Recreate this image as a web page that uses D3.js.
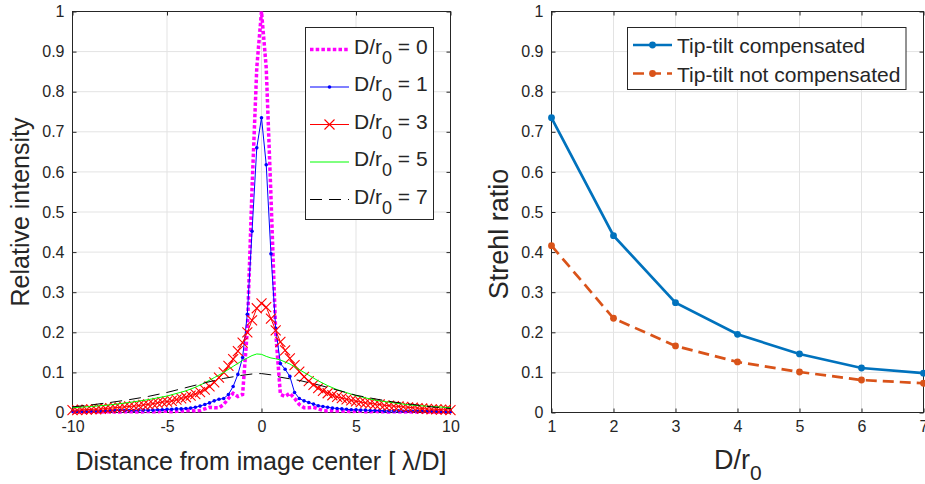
<!DOCTYPE html>
<html><head><meta charset="utf-8">
<script src="https://cdn.jsdelivr.net/npm/d3@7/dist/d3.min.js"></script>
<style>
body{margin:0;background:#fff;}
svg text{font-family:"Liberation Sans",Arial,Helvetica,sans-serif;fill:#262626;}
.tick text{font-size:16px;}
</style></head><body>
<svg id="c" width="925" height="484"></svg>
<script>
// ---------- DATA ----------
const xGrid = d3.range(81).map(i => -10 + i * 0.25);   // sample positions [λ/D]
const psf0 = [0.001,0.001,0.001,0.001,0.002,0.001,0.001,0.002,0.002,0.001,0.001,0.002,0.002,0.002,0.001,0.002,0.003,0.002,0.002,0.003,0.003,0.002,0.003,0.004,
  0.004,0.005,0.004,0.005,0.009,0.013,0.012,0.012,0.020,0.035,0.048,0.040,0.045,0.205,0.56,0.86,1.0,
  0.86,0.54,0.20,0.045,0.040,0.048,0.035,0.020,0.012,0.012,0.013,0.009,0.005,0.004,0.005,0.004,
  0.004,0.003,0.002,0.003,0.003,0.002,0.002,0.003,0.002,0.002,0.001,0.002,0.002,0.001,0.002,0.001,0.001,0.002,0.001,0.001,0.001,0.001,0.001,0.001];
const psf1 = [0.003,0.003,0.003,0.003,0.004,0.004,0.004,0.004,0.004,0.005,0.005,0.005,0.005,0.005,0.006,0.006,0.006,0.006,0.007,0.007,
  0.008,0.008,0.009,0.009,0.010,0.011,0.013,0.016,0.020,0.024,0.029,0.033,0.035,0.045,0.065,0.095,0.137,0.245,0.452,0.66,0.735,
  0.618,0.396,0.21,0.122,0.108,0.09,0.05,0.035,0.029,0.025,0.021,0.017,0.015,0.013,0.011,0.010,0.009,0.008,0.007,0.007,
  0.006,0.006,0.005,0.005,0.005,0.004,0.004,0.004,0.004,0.003,0.003,0.003,0.003,0.003,0.003,0.003,0.003,0.002,0.002,0.002];
const psf3 = [0.006,0.006,0.007,0.007,0.008,0.008,0.009,0.010,0.011,0.012,0.013,0.014,0.015,0.016,0.017,0.019,0.020,0.022,0.024,0.026,
  0.027,0.029,0.032,0.035,0.038,0.042,0.046,0.051,0.057,0.065,0.075,0.087,0.100,0.116,0.133,0.153,0.174,0.200,0.230,0.260,0.272,
  0.263,0.234,0.205,0.176,0.155,0.135,0.118,0.102,0.089,0.078,0.069,0.061,0.054,0.048,0.043,0.039,0.036,0.033,0.030,0.028,
  0.026,0.024,0.023,0.021,0.020,0.018,0.017,0.016,0.015,0.014,0.013,0.012,0.011,0.010,0.009,0.008,0.008,0.007,0.007,0.006];
const x5 = [-10,-9,-8,-7,-6,-5,-4,-3.5,-3,-2.5,-2,-1.5,-1,-0.5,-0.25,0,0.25,0.5,0.75,1,1.5,2,2.5,3,3.5,4,5,6,7,8,9,10];
const psf5 = [0.012,0.015,0.019,0.025,0.032,0.041,0.054,0.063,0.074,0.087,0.100,0.115,0.130,0.142,0.146,0.145,0.140,0.136,0.134,0.131,0.121,0.107,0.093,0.079,0.067,0.057,0.042,0.031,0.024,0.018,0.015,0.012];
const x7 = [-10,-9,-8,-7,-6,-5,-4,-3,-2,-1,-0.5,-0.25,0,0.5,1,2,3,4,5,6,7,8,9,10];
const psf7 = [0.014,0.019,0.025,0.032,0.040,0.050,0.062,0.074,0.085,0.093,0.096,0.097,0.097,0.094,0.088,0.080,0.069,0.056,0.043,0.034,0.026,0.020,0.014,0.010];
const legendLeft = ['0','1','3','5','7'];

const dr0 = [1,2,3,4,5,6,7];
const strehlComp = [0.735,0.441,0.274,0.195,0.146,0.111,0.098];
const strehlNoComp = [0.416,0.235,0.166,0.126,0.101,0.081,0.073];
const legendRight = ['Tip-tilt compensated','Tip-tilt not compensated'];

const yTicks = [0,0.1,0.2,0.3,0.4,0.5,0.6,0.7,0.8,0.9,1];
const xTicksL = [-10,-5,0,5,10];
const xTicksR = [1,2,3,4,5,6,7];

// ---------- DRAW ----------
const svg = d3.select('#c');
const L = {x: d3.scaleLinear().domain([-10,10]).range([72.5,450.5]), y: d3.scaleLinear().domain([0,1]).range([412.5,11.5])};
const R = {x: d3.scaleLinear().domain([1,7]).range([551.5,923.5]), y: d3.scaleLinear().domain([0,1]).range([412.5,11.5])};
const yFmt = d => String(+d.toFixed(1));

function styleAxis(a){
  a.attr('font-family', null).attr('font-size', null);
  a.select('.domain').remove();
  a.selectAll('.tick line').attr('stroke','#262626');
}
function frame(s, xTicks){
  const g = svg.append('g');
  const [x0,x1] = s.x.range(), [y0,y1] = s.y.range();
  g.selectAll('line.gx').data(xTicks).join('line').attr('class','gx')
    .attr('x1',d=>s.x(d)).attr('x2',d=>s.x(d)).attr('y1',y1).attr('y2',y0).attr('stroke','#e3e3e3');
  g.selectAll('line.gy').data(yTicks).join('line').attr('class','gy')
    .attr('y1',d=>s.y(d)).attr('y2',d=>s.y(d)).attr('x1',x0).attr('x2',x1).attr('stroke','#e3e3e3');
  g.append('g').attr('transform',`translate(0,${y0})`)
    .call(d3.axisBottom(s.x).tickValues(xTicks).tickFormat(d=>String(d)).tickSize(-4).tickPadding(8)).call(styleAxis);
  g.append('g').attr('transform',`translate(0,${y1})`)
    .call(d3.axisTop(s.x).tickValues(xTicks).tickFormat('').tickSize(-4)).call(styleAxis);
  g.append('g').attr('transform',`translate(${x0},0)`)
    .call(d3.axisLeft(s.y).tickValues(yTicks).tickFormat(yFmt).tickSize(-4).tickPadding(8)).call(styleAxis);
  g.append('g').attr('transform',`translate(${x1},0)`)
    .call(d3.axisRight(s.y).tickValues(yTicks).tickFormat('').tickSize(-4)).call(styleAxis);
  g.append('rect').attr('x',x0).attr('y',y1).attr('width',x1-x0).attr('height',y0-y1)
    .attr('fill','none').attr('stroke','#262626').attr('stroke-width',1);
}
frame(L, xTicksL);
frame(R, xTicksR);

// left series
const lineL = (xs) => d3.line().x((d,i)=>L.x(xs[i])).y(d=>L.y(d));
const gl = svg.append('g');
gl.append('path').datum(psf0).attr('d', lineL(xGrid)).attr('fill','none').attr('stroke','#ff00ff')
  .attr('stroke-width',3.5).attr('stroke-dasharray','3.5,2.2');
gl.append('path').datum(psf1).attr('d', lineL(xGrid)).attr('fill','none').attr('stroke','#0000ff').attr('stroke-width',1);
gl.selectAll('circle.p1').data(psf1).join('circle').attr('class','p1')
  .attr('cx',(d,i)=>L.x(xGrid[i])).attr('cy',d=>L.y(d)).attr('r',1.8).attr('fill','#0000ff');
gl.append('path').datum(psf3).attr('d', lineL(xGrid)).attr('fill','none').attr('stroke','#ff0000').attr('stroke-width',1);
const xMark = 'M-5,-5L5,5M-5,5L5,-5';
gl.selectAll('path.p3').data(psf3).join('path').attr('class','p3')
  .attr('transform',(d,i)=>`translate(${L.x(xGrid[i])},${L.y(d)})`).attr('d',xMark)
  .attr('stroke','#ff0000').attr('stroke-width',1.1).attr('fill','none');
gl.append('path').datum(psf5).attr('d', lineL(x5)).attr('fill','none').attr('stroke','#00ff00').attr('stroke-width',1);
gl.append('path').datum(psf7).attr('d', lineL(x7)).attr('fill','none').attr('stroke','#000000')
  .attr('stroke-width',1).attr('stroke-dasharray','12,7');

// right series
const gr = svg.append('g');
const lineR = d3.line().x((d,i)=>R.x(dr0[i])).y(d=>R.y(d));
gr.append('path').datum(strehlNoComp).attr('d',lineR).attr('fill','none').attr('stroke','#D95319')
  .attr('stroke-width',2.7).attr('stroke-dasharray','11,6');
gr.selectAll('circle.n').data(strehlNoComp).join('circle').attr('class','n')
  .attr('cx',(d,i)=>R.x(dr0[i])).attr('cy',d=>R.y(d)).attr('r',3.4).attr('fill','#D95319');
gr.append('path').datum(strehlComp).attr('d',lineR).attr('fill','none').attr('stroke','#0072BD').attr('stroke-width',2.7);
gr.selectAll('circle.c').data(strehlComp).join('circle').attr('class','c')
  .attr('cx',(d,i)=>R.x(dr0[i])).attr('cy',d=>R.y(d)).attr('r',3.4).attr('fill','#0072BD');

// subscript text helper
function subLabel(sel, main, sub, tail, subSize, drop){
  sel.append('tspan').text(main);
  sel.append('tspan').attr('dy',drop).attr('font-size',subSize).text(sub);
  if (tail) sel.append('tspan').attr('dy',-drop).text(tail);
}

// left legend
const lg = svg.append('g');
lg.append('rect').attr('x',305.5).attr('y',27.5).attr('width',128).attr('height',192)
  .attr('fill','#fff').attr('stroke','#262626').attr('stroke-width',1);
const rowY = i => 49.5 + i*37.5;
legendLeft.forEach((v,i)=>{
  const y = rowY(i);
  const ln = lg.append('line').attr('x1',310).attr('x2',349).attr('y1',y).attr('y2',y);
  if (i===0) ln.attr('stroke','#ff00ff').attr('stroke-width',3.5).attr('stroke-dasharray','3.5,2.2');
  if (i===1) { ln.attr('stroke','#0000ff'); lg.append('circle').attr('cx',329.5).attr('cy',y).attr('r',1.8).attr('fill','#0000ff'); }
  if (i===2) { ln.attr('stroke','#ff0000'); lg.append('path').attr('transform',`translate(329.5,${y})`).attr('d',xMark).attr('stroke','#ff0000').attr('stroke-width',1.1).attr('fill','none'); }
  if (i===3) ln.attr('stroke','#00ff00');
  if (i===4) ln.attr('stroke','#000').attr('stroke-dasharray','12,7');
  const t = lg.append('text').attr('x',354).attr('y',y+4).attr('font-size',21);
  subLabel(t,'D/r','0',' = '+v,18,10);
});

// right legend
const rg = svg.append('g');
rg.append('rect').attr('x',627.5).attr('y',27.5).attr('width',278.5).attr('height',62)
  .attr('fill','#fff').attr('stroke','#262626').attr('stroke-width',1);
legendRight.forEach((v,i)=>{
  const y = 45 + i*28.5;
  const col = i===0 ? '#0072BD' : '#D95319';
  rg.append('line').attr('x1',633).attr('x2',672).attr('y1',y).attr('y2',y).attr('stroke',col)
    .attr('stroke-width',2.7).attr('stroke-dasharray', i===0 ? null : '11,6');
  rg.append('circle').attr('cx',652.5).attr('cy',y).attr('r',3.4).attr('fill',col);
  rg.append('text').attr('x',677).attr('y',y+8).attr('font-size',21).text(v);
});

// axis labels
svg.append('text').attr('x',261).attr('y',470).attr('text-anchor','middle').attr('font-size',25)
  .text('Distance from image center [ λ/D]');
svg.append('text').attr('transform','translate(29,212) rotate(-90)').attr('text-anchor','middle').attr('font-size',25)
  .text('Relative intensity');
const xr = svg.append('text').attr('x',714).attr('y',469).attr('font-size',27);
subLabel(xr,'D/r','0',null,21,11);
svg.append('text').attr('transform','translate(508,234) rotate(-90)').attr('text-anchor','middle').attr('font-size',27)
  .text('Strehl ratio');
</script>
</body></html>
